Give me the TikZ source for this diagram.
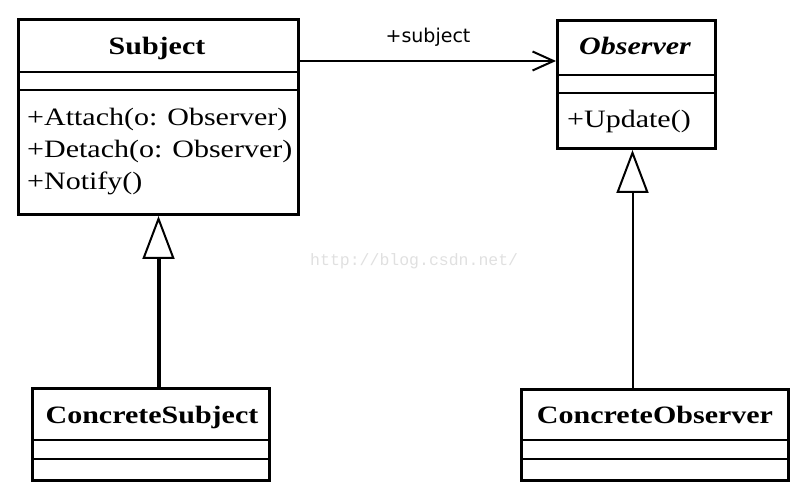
\documentclass[tikz,border=0pt]{standalone}
\usepackage{fontspec}
\setmainfont{Liberation Serif}[FakeStretch=1.2]
\newfontfamily\labelfont{DejaVu Sans}
\newfontfamily\markfont{Liberation Mono}
\usetikzlibrary{arrows.meta}

\tikzset{
  classbox/.style={draw, line width=3pt, inner sep=0pt, anchor=north west},
  sepline/.style={line width=2.5pt},
  thinsep/.style={line width=1.5pt},
  classname/.style={font=\fontsize{25}{30}\selectfont\bfseries, anchor=base, inner sep=0pt},
  member/.style={font=\fontsize{25}{30}\selectfont, anchor=base west, inner sep=0pt},
  rolelabel/.style={font=\labelfont\fontsize{19}{22}\selectfont, anchor=base, inner sep=0pt, yshift=18pt},
  assoc/.style={line width=2pt, -{Straight Barb[length=21pt, width=19pt, line width=2pt]}},
  inherit/.style={-{Triangle[open, length=43pt, width=32pt, line width=2pt]}},
}

\begin{document}
\begin{tikzpicture}[x=1pt, y=-1pt]
\useasboundingbox (0,0) rectangle (812,502);

% Subject
\node[classbox, minimum width=280pt, minimum height=195pt] (subject) at (17,18) {};
\draw[sepline] ([yshift=-54pt]subject.north west) -- ([yshift=-54pt]subject.north east);
\draw[sepline] ([yshift=-72pt]subject.north west) -- ([yshift=-72pt]subject.north east);
\node[classname] (subjectname) at (157,55) {Subject};
\node[member] (attach) at (27,126) {+Attach(o: Observer)};
\node[member] (detach) at (27,158) {+Detach(o: Observer)};
\node[member] (notify) at (27,190) {+Notify()};

% Observer
\node[classbox, minimum width=158pt, minimum height=128pt] (observer) at (556,19) {};
\draw[sepline] ([yshift=-56pt]observer.north west) -- ([yshift=-56pt]observer.north east);
\draw[sepline] ([yshift=-74pt]observer.north west) -- ([yshift=-74pt]observer.north east);
\node[classname] (observername) at (635,55) {\itshape Observer};
\node[member] (update) at (567,128) {+Update()};

% ConcreteSubject
\node[classbox, minimum width=237pt, minimum height=92pt] (csubject) at (31,387) {};
\draw[thinsep] ([yshift=-53pt]csubject.north west) -- ([yshift=-53pt]csubject.north east);
\draw[thinsep] ([yshift=-72pt]csubject.north west) -- ([yshift=-72pt]csubject.north east);
\node[classname] (csubjectname) at (152,424) {ConcreteSubject};

% ConcreteObserver
\node[classbox, minimum width=267pt, minimum height=91pt] (cobserver) at (520,388) {};
\draw[thinsep] ([yshift=-52pt]cobserver.north west) -- ([yshift=-52pt]cobserver.north east);
\draw[thinsep] ([yshift=-71pt]cobserver.north west) -- ([yshift=-71pt]cobserver.north east);
\node[classname] (cobservername) at (655,424) {ConcreteObserver};

% connectors
\draw[assoc] ([yshift=-43pt]subject.north east)
  -- node[rolelabel] (role) {+subject} ([yshift=-43pt]subject.north east -| observer.west);
\draw[inherit, line width=4pt] (subject.south |- csubject.north) -- (subject.south);
\draw[inherit, line width=2pt] ([xshift=-4pt]observer.south |- cobserver.north) -- ([xshift=-4pt]observer.south);

\node[font=\markfont\fontsize{16.5}{20}\selectfont, text=black!12, anchor=base west, inner sep=0pt] (mark) at (310,266) {http://blog.csdn.net/};

\end{tikzpicture}
\end{document}
